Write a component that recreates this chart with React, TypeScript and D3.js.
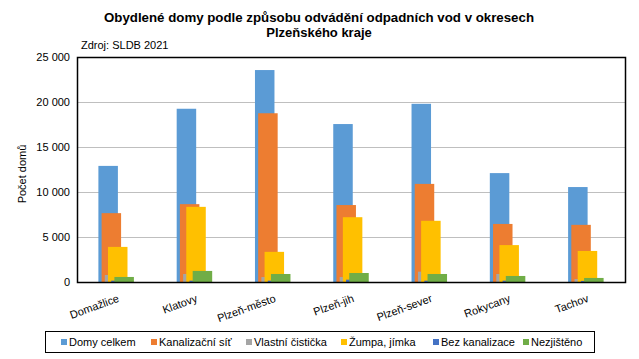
import { useEffect, useRef } from "react";
import * as d3 from "d3";

const districts = ["Domažlice", "Klatovy", "Plzeň-město", "Plzeň-jih", "Plzeň-sever", "Rokycany", "Tachov"];
const seriesNames = ["Domy celkem", "Kanalizační síť", "Vlastní čistička", "Žumpa, jímka", "Bez kanalizace", "Nezjištěno"];
const seriesColors = ["#5B9BD5", "#ED7D31", "#A5A5A5", "#FFC000", "#4472C4", "#70AD47"];

const domyCelkem = [12900, 19250, 23550, 17550, 19800, 12100, 10550];
const kanalizace = [7650, 8650, 18750, 8550, 10900, 6450, 6350];
const cisticka = [780, 890, 550, 550, 1150, 890, 330];
const zumpa = [3900, 8350, 3350, 7200, 6800, 4100, 3450];
const bezKanalizace = [150, 150, 150, 260, 150, 150, 120];
const nezjisteno = [560, 1230, 890, 1000, 890, 670, 450];

const yTicks = [0, 5000, 10000, 15000, 20000, 25000];

const FONT = "'Liberation Sans', Arial, sans-serif";

export default function App() {
  const ref = useRef<SVGSVGElement>(null);

  useEffect(() => {
    const svg = d3.select(ref.current);
    svg.selectAll("*").remove();

    const width = 639;
    const height = 359;
    const left = 77;
    const right = 625;
    const top = 57;
    const bottom = 282;

    svg.attr("width", width).attr("height", height).style("font-family", FONT);

    svg.append("rect").attr("width", width).attr("height", height).attr("fill", "#fff");

    const values = [domyCelkem, kanalizace, cisticka, zumpa, bezKanalizace, nezjisteno];

    const x = d3.scaleBand<string>().domain(districts).range([left, right]).padding(0);
    const y = d3.scaleLinear().domain([0, 25000]).range([bottom, top]);

    // bars overlap heavily, like Excel with big overlap
    const barW = 19.5;
    const step = 3.2;
    const cluster = barW + step * (seriesNames.length - 1);
    const inner = d3
      .scaleLinear()
      .domain([0, seriesNames.length - 1])
      .range([-cluster / 2, cluster / 2 - barW]);

    // gridlines
    svg
      .append("g")
      .selectAll("line")
      .data(yTicks.slice(1, -1))
      .join("line")
      .attr("x1", left)
      .attr("x2", right)
      .attr("y1", (d) => Math.round(y(d)) + 0.5)
      .attr("y2", (d) => Math.round(y(d)) + 0.5)
      .attr("stroke", "#bfbfbf")
      .attr("stroke-width", 1);

    // bars
    values.forEach((vals, si) => {
      svg
        .append("g")
        .selectAll("rect")
        .data(vals)
        .join("rect")
        .attr("x", (d, i) => x(districts[i])! + x.bandwidth() / 2 + inner(si))
        .attr("y", (d) => y(d))
        .attr("width", barW)
        .attr("height", (d) => bottom - y(d))
        .attr("fill", seriesColors[si]);
    });

    // plot border
    svg
      .append("rect")
      .attr("x", left + 0.5)
      .attr("y", top + 0.5)
      .attr("width", right - left)
      .attr("height", bottom - top)
      .attr("fill", "none")
      .attr("stroke", "#000")
      .attr("stroke-width", 1.5);

    // y tick labels
    svg
      .append("g")
      .selectAll("text")
      .data(yTicks)
      .join("text")
      .attr("x", 70)
      .attr("y", (d) => y(d))
      .attr("dy", "0.36em")
      .attr("text-anchor", "end")
      .attr("font-size", 11)
      .attr("fill", "#000")
      .text((d) => d3.format(",")(d).replace(/,/g, " "));

    // y title
    svg
      .append("text")
      .attr("transform", `translate(26,174) rotate(-90)`)
      .attr("text-anchor", "middle")
      .attr("font-size", 11)
      .text("Počet domů");

    // x labels, rotated
    svg
      .append("g")
      .selectAll("text")
      .data(districts)
      .join("text")
      .attr("transform", (d) => `translate(${x(d)! + x.bandwidth() / 2 + 1},${bottom + 12}) rotate(-20)`)
      .attr("text-anchor", "end")
      .attr("dy", "0.71em")
      .attr("font-size", 11)
      .text((d) => d);

    // title
    svg
      .append("text")
      .attr("x", 319)
      .attr("y", 22)
      .attr("text-anchor", "middle")
      .attr("font-size", 13)
      .attr("font-weight", "bold")
      .attr("textLength", 430)
      .attr("lengthAdjust", "spacingAndGlyphs")
      .text("Obydlené domy podle způsobu odvádění odpadních vod v okresech");
    svg
      .append("text")
      .attr("x", 319)
      .attr("y", 37)
      .attr("text-anchor", "middle")
      .attr("font-size", 13)
      .attr("font-weight", "bold")
      .text("Plzeňského kraje");

    svg
      .append("text")
      .attr("x", 81)
      .attr("y", 49)
      .attr("font-size", 11)
      .text("Zdroj: SLDB 2021");

    // legend
    const lg = svg.append("g");
    lg.append("rect")
      .attr("x", 45.5)
      .attr("y", 331.5)
      .attr("width", 549)
      .attr("height", 21)
      .attr("fill", "#fff")
      .attr("stroke", "#000")
      .attr("stroke-width", 1);

    const legendX = [61, 151, 246, 341, 433, 523];
    seriesNames.forEach((name, i) => {
      lg.append("rect")
        .attr("x", legendX[i])
        .attr("y", 339)
        .attr("width", 6)
        .attr("height", 6)
        .attr("fill", seriesColors[i]);
      lg.append("text")
        .attr("x", legendX[i] + 8)
        .attr("y", 342)
        .attr("dy", "0.36em")
        .attr("font-size", 11)
        .text(name);
    });
  }, []);

  return <svg ref={ref} style={{ position: "absolute", left: 0, top: 0, display: "block" }}></svg>;
}
